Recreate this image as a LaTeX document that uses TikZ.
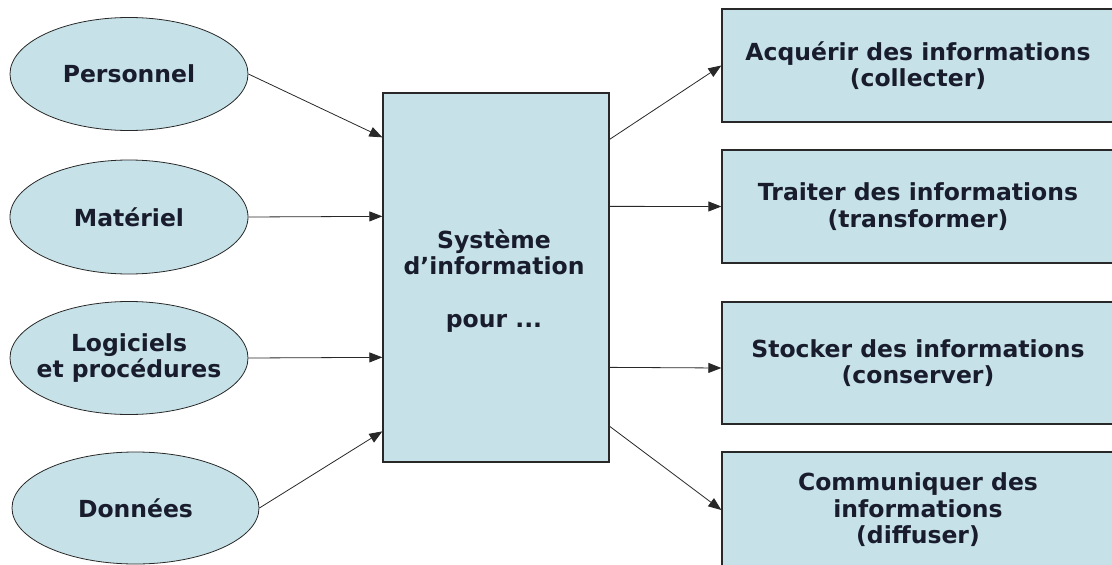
\documentclass[tikz,border=0pt]{standalone}
\usepackage{fontspec}
\setmainfont{DejaVu Sans}
\usetikzlibrary{shapes.geometric,arrows.meta}
\definecolor{boxfill}{RGB}{198,226,232}
\definecolor{inktext}{RGB}{24,28,44}
\definecolor{edge}{RGB}{40,40,40}
\begin{document}
\begin{tikzpicture}[x=1pt,y=-1pt,
  every node/.style={font=\fontsize{23.5}{26.5}\selectfont\bfseries, text=inktext, align=center, inner sep=0pt},
  resource/.style={ellipse, draw=edge, line width=0.8pt, fill=boxfill},
  sysbox/.style={rectangle, draw=edge, line width=1.3pt, fill=boxfill},
  taskbox/.style={rectangle, draw=edge, line width=1.3pt, fill=boxfill},
  link/.style={draw=edge, line width=0.8pt, -{Triangle[length=13pt,width=10pt]}}]
\useasboundingbox (0,0) rectangle (1112,565);
\begin{scope}
\clip (0,0) rectangle (1112,565);
% resources feeding the system (outlines, then their labels)
\node[resource, minimum width=238pt, minimum height=113pt] (pers) at (129,74) {};
\node[resource, minimum width=238pt, minimum height=114pt] (mat) at (129,217) {};
\node[resource, minimum width=238pt, minimum height=113pt] (log) at (129,358) {};
\node[resource, minimum width=247pt, minimum height=112pt] (don) at (135.5,508) {};
\node (perstxt) at (pers.center) {Personnel};
\node (mattxt) at (mat.center) {Matériel};
\node (logtxt) at (log.center) {Logiciels\\et procédures};
\node (dontxt) at (don.center) {Données};
% central system
\node[sysbox, minimum width=226pt, minimum height=369pt] (sys) at (496,277.5) {};
\node (systxt) at (494,281) {Système\\d’information\\[26pt]pour ...};
% functions of the system
\node[taskbox, minimum width=392pt, minimum height=113pt] (acq) at (918,65.5) {Acquérir des informations\\(collecter)};
\node[taskbox, minimum width=392pt, minimum height=113pt] (trt) at (918,206.5) {Traiter des informations\\(transformer)};
\node[taskbox, minimum width=392pt, minimum height=122pt] (sto) at (918,363) {Stocker des informations\\(conserver)};
\node[taskbox, minimum width=392pt, minimum height=116pt] (com) at (918,510) {Communiquer des\\informations\\(diffuser)};
\end{scope}
% inputs
\draw[link] (pers.east) -- ([yshift=-45pt]sys.north west);
\draw[link] (mat.east) -- ([yshift=-124pt]sys.north west);
\draw[link] (log.east) -- ([yshift=-265pt]sys.north west);
\draw[link] (don.east) -- ([yshift=-339pt]sys.north west);
% outputs
\draw[link] ([yshift=-47pt]sys.north east) -- (acq.west);
\draw[link] ([yshift=-114pt]sys.north east) -- (trt.west);
\draw[link] ([yshift=-275pt]sys.north east) -- ([yshift=-5pt]sto.west);
\draw[link] ([yshift=-334pt]sys.north east) -- (com.west);
\end{tikzpicture}
\end{document}
